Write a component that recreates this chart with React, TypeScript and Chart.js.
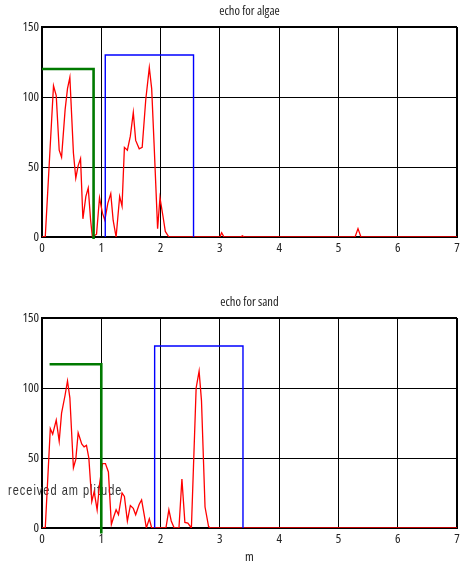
import React, { useEffect, useRef } from 'react';
import { Chart, registerables } from 'chart.js';

Chart.register(...registerables);

// ---------- data ----------
const xTickValues = [0, 1, 2, 3, 4, 5, 6, 7];
const yTickValues = [0, 50, 100, 150];

const algaeTitle = 'echo for algae';
const sandTitle = 'echo for sand';
const xAxisLabel = 'm';
const yAxisLabel = 'received am plitude';

const algaeEchoX = [0, 0.055, 0.194, 0.24, 0.29, 0.33, 0.39, 0.43, 0.47, 0.53, 0.57, 0.61, 0.65, 0.69, 0.74, 0.78, 0.82, 0.85, 0.92, 0.97, 1.02, 1.06, 1.11, 1.16, 1.2, 1.25, 1.31, 1.35, 1.39, 1.44, 1.49, 1.54, 1.58, 1.64, 1.69, 1.75, 1.81, 1.85, 1.89, 1.95, 1.99, 2.04, 2.08, 2.14, 3.0, 3.03, 3.07, 3.35, 3.38, 3.41, 5.28, 5.33, 5.38, 7];
const algaeEchoY = [0, 0, 108, 101, 62, 57, 91, 106, 114, 60, 42, 51, 56, 13, 29, 35, 12, 0, 2, 28, 17, 12, 24, 31, 12, 0, 29, 22, 64, 62, 72, 89, 69, 63, 64, 98, 121, 106, 67, 6, 28, 15, 4, 0, 0, 3, 0, 0, 0.8, 0, 0, 6, 0, 0];

const algaeGateX = [0, 0.87, 0.87];
const algaeGateY = [120, 120, -1.5];
const algaeWindowX = [1.067, 1.067, 2.556, 2.556];
const algaeWindowY = [0, 130, 130, 0];

const sandEchoX = [0, 0.055, 0.14, 0.18, 0.24, 0.29, 0.33, 0.39, 0.43, 0.47, 0.53, 0.57, 0.61, 0.67, 0.71, 0.75, 0.79, 0.84, 0.88, 0.93, 0.97, 1.02, 1.07, 1.12, 1.17, 1.21, 1.25, 1.29, 1.35, 1.39, 1.44, 1.49, 1.54, 1.58, 1.64, 1.68, 1.73, 1.76, 1.81, 1.85, 2.09, 2.14, 2.18, 2.23, 2.31, 2.36, 2.41, 2.46, 2.52, 2.6, 2.65, 2.69, 2.75, 2.81, 2.84, 7];
const sandEchoY = [0, 0, 71, 67, 77, 62, 82, 95, 105, 93, 43, 49, 68, 60, 58, 59, 50, 19, 26, 13, 31, 46, 46, 40, 2.5, 8, 13, 9.5, 25, 22.5, 5, 16, 14, 9.5, 17, 20, 8, 0, 6.5, 0, 0, 13, 5, 0, 0, 35, 4, 3.5, 0, 100, 112, 91, 15, 1, 0, 0];

const sandGateX = [0.128, 1.0, 1.0];
const sandGateY = [117, 117, -4];
const sandWindowX = [1.9, 1.9, 3.39, 3.39];
const sandWindowY = [0, 130, 130, 0];

// ---------- helpers ----------
const FAMILY = '"Open Sans", sans-serif';
const FONT_TITLE = { family: FAMILY, size: 12.5, weight: '400 condensed' };
const FONT_TICK = { family: FAMILY, size: 13, weight: '400 condensed' };

const pts = (xs: number[], ys: number[]) => xs.map((x, i) => ({ x, y: ys[i] }));

const yLabelPlugin = {
  id: 'yLabelText',
  beforeDatasetsDraw(chart: any, _args: any, opts: any) {
    if (!opts || !opts.show) return;
    const ctx = chart.ctx;
    ctx.save();
    ctx.font = '11px "Liberation Sans", Arial, sans-serif';
    (ctx as any).letterSpacing = '1px';
    ctx.fillStyle = '#333';
    ctx.textBaseline = 'alphabetic';
    ctx.textAlign = 'left';
    ctx.translate(8, 204);
    ctx.scale(1, 1.25);
    ctx.fillText(opts.text, 0, 0);
    ctx.restore();
  },
};

function buildConfig(title: string, echo: any[], gate: any[], win: any[], showXTitle: boolean, showYLabel: boolean): any {
  return {
    type: 'line',
    data: {
      datasets: [
        { data: echo, borderColor: '#ff0000', borderWidth: 1.3, pointRadius: 0, tension: 0, order: 3 },
        { data: gate, borderColor: '#007a00', borderWidth: 2.6, pointRadius: 0, tension: 0, order: 1, clip: false },
        { data: win, borderColor: '#0000ff', borderWidth: 1.4, pointRadius: 0, tension: 0, order: 2 },
      ],
    },
    options: {
      animation: false,
      responsive: false,
      maintainAspectRatio: false,
      layout: { padding: { left: 0, right: 3, top: 0, bottom: 0 } },
      plugins: {
        legend: { display: false },
        tooltip: { enabled: false },
        title: {
          display: true,
          text: title,
          fullSize: false,
          color: '#222',
          font: FONT_TITLE,
          padding: { top: 3.5, bottom: 8.5 },
        },
        yLabelText: { show: showYLabel, text: yAxisLabel },
      },
      scales: {
        x: {
          type: 'linear',
          min: 0,
          max: 7,
          afterBuildTicks: (s: any) => { s.ticks = xTickValues.map((v) => ({ value: v })); },
          afterFit: (s: any) => { s.height = 37; s.paddingLeft = 0; s.paddingRight = 0; },
          grid: {
            color: '#000',
            lineWidth: (c: any) => (c.tick && c.tick.value === 7 ? 2 : 1),
            drawTicks: false,
          },
          border: { display: true, color: '#000', width: 2 },
          ticks: { color: '#222', padding: 3, font: FONT_TICK, maxRotation: 0 },
          title: {
            display: showXTitle,
            text: xAxisLabel,
            color: '#222',
            font: FONT_TICK,
            padding: { top: 0, bottom: 0 },
          },
        },
        y: {
          type: 'linear',
          min: 0,
          max: 150,
          afterBuildTicks: (s: any) => { s.ticks = yTickValues.map((v) => ({ value: v })); },
          afterFit: (s: any) => { s.width = 42; },
          grid: {
            color: '#000',
            lineWidth: (c: any) => (c.tick && c.tick.value === 150 ? 2 : 1),
            drawTicks: false,
          },
          border: { display: true, color: '#000', width: 2 },
          ticks: { color: '#222', padding: 3, font: FONT_TICK },
        },
      },
    },
    plugins: [yLabelPlugin],
  };
}

function Panel(props: { top: number; config: () => any }) {
  const ref = useRef<HTMLCanvasElement | null>(null);
  useEffect(() => {
    if (!ref.current) return;
    const chart = new Chart(ref.current, props.config());
    return () => chart.destroy();
  }, []);
  return (
    <canvas
      ref={ref}
      width={460}
      height={274}
      style={{ position: 'absolute', left: 0, top: props.top, width: 460, height: 274 }}
    />
  );
}

export default function App() {
  return (
    <div style={{ position: 'absolute', left: 0, top: 0, width: 460, height: 565, background: '#fff' }}>
      <Panel
        top={0}
        config={() => buildConfig(algaeTitle, pts(algaeEchoX, algaeEchoY), pts(algaeGateX, algaeGateY), pts(algaeWindowX, algaeWindowY), false, false)}
      />
      <Panel
        top={291}
        config={() => buildConfig(sandTitle, pts(sandEchoX, sandEchoY), pts(sandGateX, sandGateY), pts(sandWindowX, sandWindowY), true, true)}
      />
    </div>
  );
}
